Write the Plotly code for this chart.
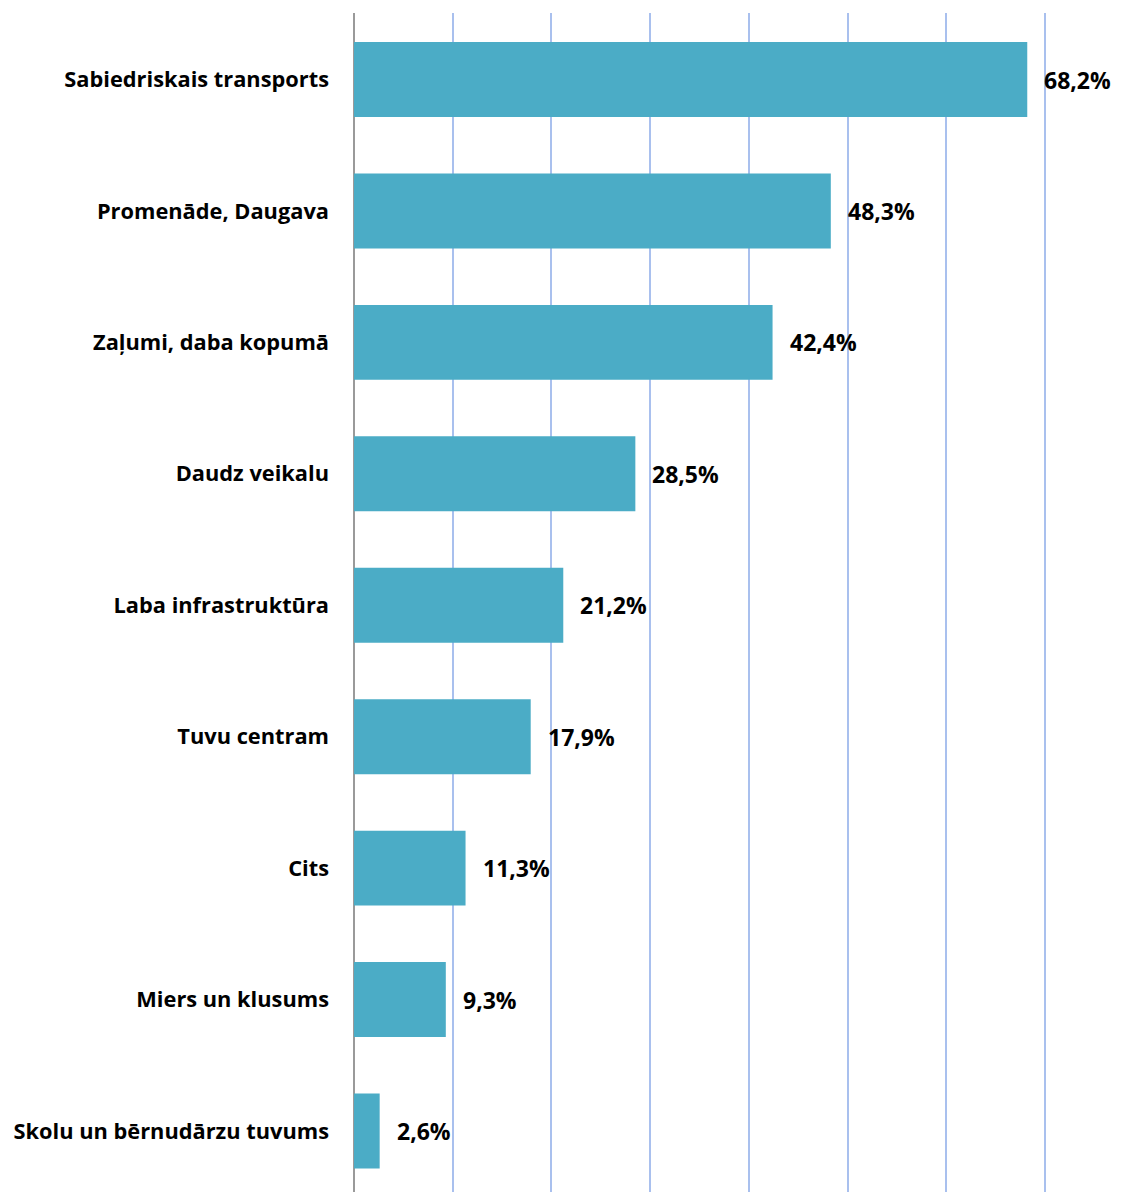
import plotly.graph_objects as go

# Survey answers, ordered top to bottom as in the chart
categories = [
    "Sabiedriskais transports",
    "Promenāde, Daugava",
    "Zaļumi, daba kopumā",
    "Daudz veikalu",
    "Laba infrastruktūra",
    "Tuvu centram",
    "Cits",
    "Miers un klusums",
    "Skolu un bērnudārzu tuvums",
]
values = [68.2, 48.3, 42.4, 28.5, 21.2, 17.9, 11.3, 9.3, 2.6]

value_font = dict(family="Open Sans", size=23, color="#000000")

fig = go.Figure()

fig.add_trace(go.Bar(
    x=values,
    y=categories,
    orientation="h",
    marker=dict(color="#4BACC6", line=dict(width=0)),
    hoverinfo="skip",
))

# Percentage labels to the right of each bar
for cat, val in zip(categories, values):
    fig.add_annotation(
        x=val, y=cat,
        text="<b>" + f"{val:.1f}".replace(".", ",") + "%</b>",
        showarrow=False,
        xanchor="left",
        xshift=15,
        font=value_font,
    )

# page body has an 8px margin, so the figure is sized a bit smaller
fig.update_layout(
    width=1123,
    height=1184,
    margin=dict(l=346, r=84, t=5, b=0),
    paper_bgcolor="white",
    plot_bgcolor="white",
    bargap=0.43,
    showlegend=False,
    xaxis=dict(
        range=[0, 70.2],
        dtick=10,
        showticklabels=False,
        showgrid=True,
        gridcolor="#A9C0EE",
        gridwidth=2,
        zeroline=True,
        zerolinecolor="#9A9A9A",
        zerolinewidth=1.5,
        fixedrange=True,
    ),
    yaxis=dict(
        range=[8.464, -0.506],
        showgrid=False,
        ticks="",
        ticklabelstandoff=24,
        tickfont=dict(family="Open Sans", size=21.8, color="#000000", weight="bold"),
        fixedrange=True,
    ),
)

fig.write_html("out.html")
